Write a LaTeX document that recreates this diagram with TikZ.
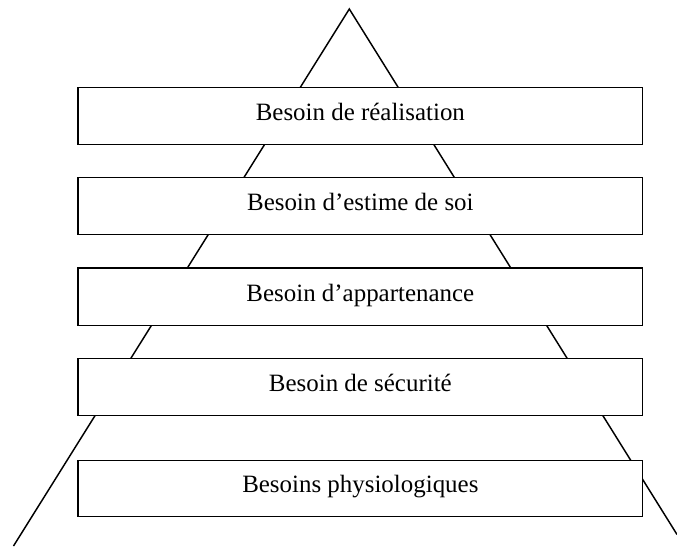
\documentclass[tikz,border=0pt]{standalone}
\usepackage{fontspec}
\setmainfont{Liberation Serif}
\begin{document}
\begin{tikzpicture}[x=0.75pt,y=-0.75pt,
  level/.style={draw, fill=white, line width=1.1pt, rectangle, inner sep=0pt,
    minimum width=423.5pt, minimum height=42.8pt,
    text height=12pt, text depth=5.2pt,
    font=\fontsize{18.7pt}{22pt}\selectfont},
  edge/.style={line width=1.1pt, line join=miter}]
\useasboundingbox (0,0) rectangle (677,546);
\coordinate (apex) at (349.3,9);
\coordinate (baseL) at (13.5,546);
\coordinate (baseR) at (677,534.5);
\draw[edge] (baseL) -- (apex) -- (baseR);
\node[level] (n1) at (360.35,116) {Besoin de réalisation};
\node[level] (n2) at (360.35,206.2) {Besoin d’estime de soi};
\node[level] (n3) at (360.35,296.7) {Besoin d’appartenance};
\node[level] (n4) at (360.35,386.8) {Besoin de sécurité};
\node[level, minimum height=42pt] (n5) at (360.35,488.3) {Besoins physiologiques};
\end{tikzpicture}
\end{document}
